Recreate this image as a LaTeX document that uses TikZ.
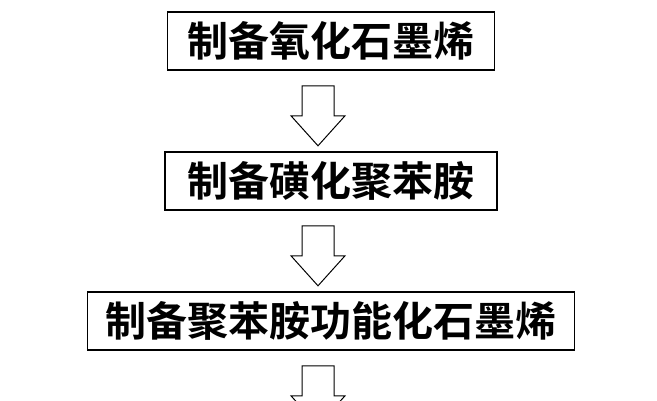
\documentclass[tikz,border=0pt]{standalone}
\usepackage{fontspec}
\setmainfont{Noto Sans CJK SC Bold}
\usetikzlibrary{positioning,calc}
\tikzset{
  stepbox/.style={draw,line width=1.6pt,minimum height=58pt,inner sep=0pt,font=\fontsize{41}{44}\selectfont},
  hollow/.style={draw,line width=1pt,fill=white}
}
\begin{document}
\begin{tikzpicture}[x=1pt,y=1pt]
  \useasboundingbox (0,0) rectangle (657,-400);
  \clip (0,0) rectangle (657,-400);
  \node[stepbox,minimum width=327pt] (go) at (331,-41) {制备氧化石墨烯};
  \node[stepbox,minimum width=332pt] (spani) at (331,-181) {制备磺化聚苯胺};
  \node[stepbox,minimum width=487pt] (pgo) at (331,-321) {制备聚苯胺功能化石墨烯};
  \coordinate (next) at (331,-430);
  \foreach \a/\b in {go/spani, spani/pgo, pgo/next}{
    \path ([xshift=-13pt]\a.south) ++(0,-15) coordinate (t);
    \draw[hollow] ($(t)+(-16,0)$) -- ++(0,-30) -- ++(-11,0) -- ($(t)+(0,-60)$) -- ($(t)+(27,-30)$) -- ++(-11,0) -- ++(0,30) -- cycle;
  }
\end{tikzpicture}
\end{document}
